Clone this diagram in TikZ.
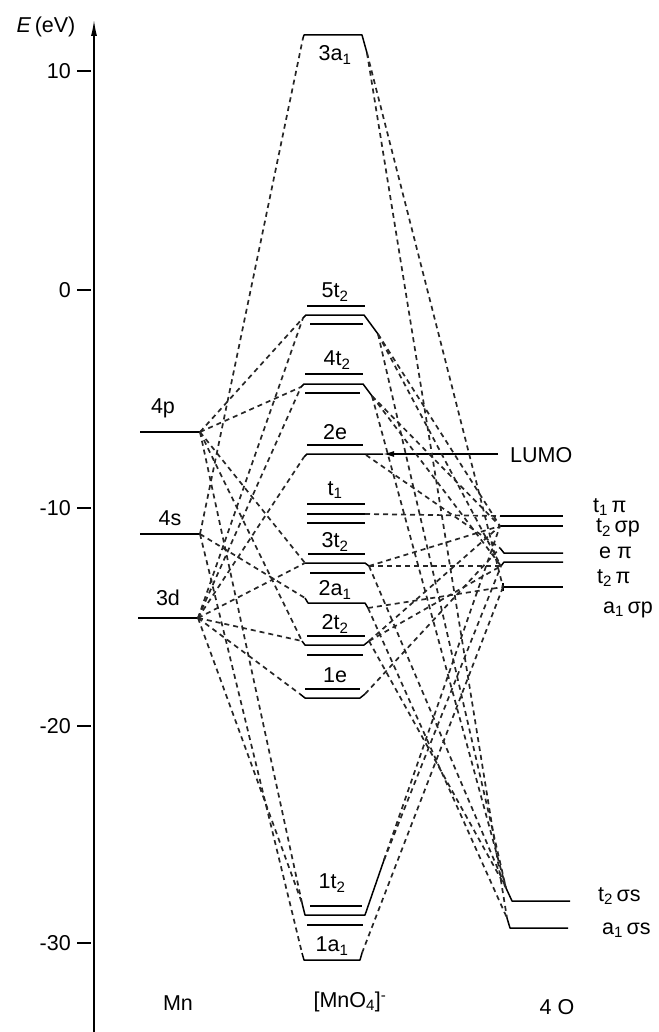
\documentclass[tikz,border=0pt]{standalone}
\usepackage{fontspec}
\setmainfont{Liberation Sans}
\usetikzlibrary{arrows.meta}
\begin{document}
\begin{tikzpicture}[x=1pt,y=-1pt,
  lvl/.style={line width=1.5pt,line join=round},
  conn/.style={line width=1.7pt,dash pattern=on 5pt off 4pt,black!85},
  lab/.style={font=\fontsize{21.5}{25}\selectfont,inner sep=0pt},
]
\useasboundingbox (0,0) rectangle (658,1032);
% axis
\coordinate (ax0) at (94,1032);
\coordinate (ax1) at (94,20);
\draw[line width=1.3pt,-{Latex[length=16pt,width=6pt]}] (ax0) -- (ax1);
\node[lab] (Elab) at (46,27) {\textit{E}\,(eV)};
\foreach \v/\yy/\n in {10/71/a,0/290/b,-10/508/c,-20/726/d,-30/943/e} {
  \draw[lvl] (77,\yy) -- (91,\yy);
  \node[lab,anchor=east] (tick\n) at (71,\yy) {\v};
}
% Mn levels
\coordinate (p) at (200,432);
\coordinate (s) at (200,534);
\coordinate (d) at (198,618);
\draw[lvl] (140,432) -- (p);
\draw[lvl] (140,534) -- (s);
\draw[lvl] (138,618) -- (d);
\node[lab] (l4p) at (163,408) {4p};
\node[lab] (l4s) at (170,518) {4s};
\node[lab] (l3d) at (168,598) {3d};
\node[lab] (lMn) at (178,1003) {Mn};
% MnO4 levels
\coordinate (a3L) at (303,38);  \coordinate (a3R) at (367,53);
\draw[lvl] (a3L) -- (304,35) -- (362,35) -- (a3R);
\node[lab] (l3a1) at (335,55) {3a\textsubscript{1}};
\coordinate (t5L) at (303,318); \coordinate (t5R) at (378,334);
\draw[lvl] (307,306) -- (365,306);
\draw[lvl] (t5L) -- (306,315) -- (364,315) -- (t5R);
\draw[lvl] (310,324) -- (363,324);
\node[lab] (l5t2) at (335,292) {5t\textsubscript{2}};
\coordinate (t4L) at (301,387); \coordinate (t4R) at (372,396);
\draw[lvl] (305,374) -- (363,374);
\draw[lvl] (t4L) -- (304,384) -- (363,384) -- (t4R);
\draw[lvl] (305,393) -- (360,393);
\node[lab] (l4t2) at (337,360) {4t\textsubscript{2}};
\coordinate (e2L) at (304,457); \coordinate (e2R) at (366,455);
\draw[lvl] (307,445) -- (363,445);
\draw[lvl] (e2L) -- (307,454) -- (383,454);
\node[lab] (l2e) at (335,432) {2e};
\coordinate (t1nR) at (365,514);
\draw[lvl] (307,504) -- (365,504);
\draw[lvl] (307,514) -- (t1nR);
\draw[lvl] (307,523) -- (365,523);
\node[lab] (lt1) at (335,490) {t\textsubscript{1}};
\coordinate (t3L) at (305,563); \coordinate (t3R) at (369,566);
\draw[lvl] (308,554) -- (365,554);
\draw[lvl] (t3L) -- (365,563) -- (t3R);
\draw[lvl] (310,573) -- (365,573);
\node[lab] (l3t2) at (335,542) {3t\textsubscript{2}};
\coordinate (a2L) at (305,598); \coordinate (a2R) at (368,608);
\draw[lvl] (a2L) -- (308,603) -- (365,603) -- (a2R);
\node[lab] (l2a1) at (335,590) {2a\textsubscript{1}};
\coordinate (t2L) at (302,641); \coordinate (t2R) at (369,641);
\draw[lvl] (307,636) -- (365,636);
\draw[lvl] (t2L) -- (305,645) -- (364,645) -- (t2R);
\draw[lvl] (307,655) -- (363,655);
\node[lab] (l2t2) at (335,624) {2t\textsubscript{2}};
\coordinate (e1L) at (300,694); \coordinate (e1R) at (365,694);
\draw[lvl] (305,689) -- (360,689);
\draw[lvl] (e1L) -- (305,698) -- (360,698) -- (e1R);
\node[lab] (l1e) at (335,675) {1e};
\coordinate (t1L) at (302,903); \coordinate (t1R) at (384,860);
\draw[lvl] (310,906) -- (362,906);
\draw[lvl] (t1L) -- (305,915) -- (365,915) -- (t1R);
\draw[lvl] (307,925) -- (363,925);
\node[lab] (l1t2) at (332,883) {1t\textsubscript{2}};
\coordinate (a1L) at (302,953); \coordinate (a1R) at (362,953);
\draw[lvl] (a1L) -- (304,960) -- (360,960) -- (a1R);
\node[lab] (l1a1) at (332,946) {1a\textsubscript{1}};
\node[lab] (lMnO) at (350,1002) {[MnO\textsubscript{4}]\textsuperscript{-}};
% O levels
\coordinate (Ot1pi) at (500,516);
\coordinate (Ot2sp) at (500,526);
\coordinate (Oepi) at (500,548);
\coordinate (Ot2pi) at (501,566);
\coordinate (Oa1sp) at (503,587);
\coordinate (Ot2ss) at (506,888);
\coordinate (Oa1ss) at (507,918);
\draw[lvl] (Ot1pi) -- (563,516);
\draw[lvl] (Ot2sp) -- (563,526);
\draw[lvl] (Oepi) -- (504,553) -- (563,553);
\draw[lvl] (Ot2pi) -- (504,562) -- (563,562);
\draw[lvl] (503,583) -- (503,591);
\draw[lvl] (Oa1sp) -- (563,587);
\draw[lvl] (Ot2ss) -- (512,901) -- (570,901);
\draw[lvl] (Oa1ss) -- (510,928) -- (568,928);
\node[lab,anchor=west] (lt1pi) at (593,507) {t\textsubscript{1}\,π};
\node[lab,anchor=west] (lt2sp) at (596,528) {t\textsubscript{2}\,σp};
\node[lab,anchor=west] (lepi) at (599,553) {e π};
\node[lab,anchor=west] (lt2pi) at (597,578) {t\textsubscript{2}\,π};
\node[lab,anchor=west] (la1sp) at (603,610) {a\textsubscript{1}\,σp};
\node[lab,anchor=west] (lt2ss) at (598,896) {t\textsubscript{2}\,σs};
\node[lab,anchor=west] (la1ss) at (602,930) {a\textsubscript{1}\,σs};
\node[lab] (lO) at (557,1007) {4 O};
% LUMO
\node[lab,anchor=west] (lumo) at (510,455) {LUMO};
\coordinate (lumoE) at (498,454);
\coordinate (lumoT) at (383,454);
\draw[lvl,-{Latex[length=11pt,width=6pt]}] (lumoE) -- (lumoT);
% connectors Mn side
\foreach \t in {t5L,t4L,t3L,t2L,t1L} \draw[conn] (p) -- (\t);
\foreach \t in {a3L,a2L,a1L} \draw[conn] (s) -- (\t);
\foreach \t in {t5L,t4L,e2L,t3L,t2L,e1L,t1L} \draw[conn] (d) -- (\t);
% connectors O side
\foreach \f/\t in {a3R/Oa1sp,a3R/Oa1ss,t5R/Ot2sp,t5R/Ot2pi,t5R/Ot2ss,t4R/Ot2sp,t4R/Ot2pi,t4R/Ot2ss,
  e2R/Oepi,t1nR/Ot1pi,t3R/Ot2sp,t3R/Ot2pi,t3R/Ot2ss,a2R/Oa1sp,a2R/Oa1ss,t2R/Ot2sp,t2R/Ot2pi,t2R/Ot2ss,
  e1R/Oepi,t1R/Ot2sp,t1R/Ot2pi,a1R/Oa1sp}
  \draw[conn] (\f) -- (\t);
\end{tikzpicture}
\end{document}
